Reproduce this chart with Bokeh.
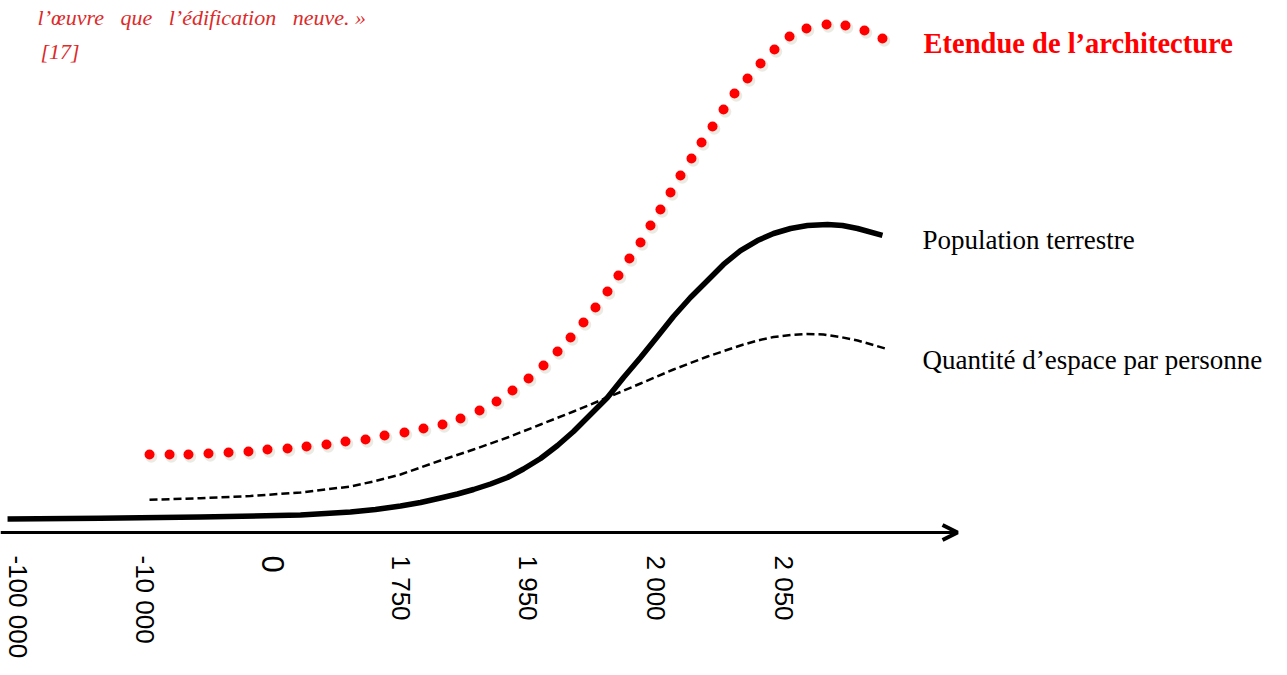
from bokeh.plotting import figure
from bokeh.models import Range1d, Arrow, OpenHead, ColumnDataSource
from bokeh.transform import dodge
from bokeh.core.properties import value, field
from bokeh.embed import file_html
from bokeh.resources import INLINE

# ---- data (x = position along the time axis, one unit per tick; y = relative level 0-100)
tick_labels = ["-100 000", "-10 000", "0", "1 750", "1 950", "2 000", "2 050"]
tick_pos = [0, 1, 2, 3, 4, 5, 6]

arch_x = [1.034, 1.191, 1.339, 1.496, 1.653, 1.809, 1.958, 2.115, 2.264, 2.420,
          2.569, 2.726, 2.875, 3.031, 3.180, 3.329, 3.470, 3.619, 3.752, 3.877,
          4.003, 4.120, 4.230, 4.332, 4.433, 4.527, 4.621, 4.707, 4.793, 4.880,
          4.958, 5.036, 5.115, 5.193, 5.279, 5.358, 5.444, 5.530, 5.616, 5.718,
          5.820, 5.929, 6.047, 6.180, 6.337, 6.485, 6.634, 6.775]
arch_y = [15.29, 15.29, 15.29, 15.49, 15.69, 15.88, 16.27, 16.47, 16.86, 17.25,
          17.84, 18.24, 19.02, 19.61, 20.39, 21.18, 22.35, 23.92, 25.69, 27.84,
          30.20, 32.75, 35.49, 38.24, 41.18, 44.12, 47.25, 50.39, 53.73, 56.86,
          60.20, 63.33, 66.67, 70.00, 73.33, 76.47, 79.61, 82.94, 86.08, 89.02,
          91.96, 94.71, 97.25, 98.82, 99.61, 99.41, 98.43, 96.86]

pop_x = [-0.078, 0.650, 1.433, 2.217, 2.608, 2.804, 3.000, 3.157, 3.313, 3.446,
         3.572, 3.705, 3.838, 3.963, 4.097, 4.230, 4.355, 4.488, 4.621, 4.747,
         4.880, 5.013, 5.138, 5.271, 5.405, 5.530, 5.663, 5.796, 5.922, 6.055,
         6.188, 6.345, 6.462, 6.580, 6.775]
pop_y = [2.65, 2.80, 3.04, 3.43, 4.02, 4.51, 5.20, 5.88, 6.76, 7.55,
         8.43, 9.51, 10.78, 12.45, 14.51, 17.06, 19.80, 23.14, 26.47, 30.39,
         34.31, 38.43, 42.35, 46.08, 49.41, 52.55, 55.29, 57.25, 58.63, 59.61,
         60.20, 60.39, 60.20, 59.61, 58.24]

space_x = [1.034, 1.433, 1.825, 2.217, 2.608, 2.804, 3.000, 3.313, 3.572, 3.838,
           4.097, 4.355, 4.621, 4.880, 5.138, 5.405, 5.663, 5.796, 5.922, 6.055,
           6.180, 6.313, 6.446, 6.580, 6.705, 6.822]
space_y = [6.41, 6.73, 7.16, 7.84, 9.02, 10.10, 11.37, 14.12, 16.27, 18.63,
           21.18, 23.73, 26.47, 29.22, 31.96, 34.51, 36.67, 37.65, 38.33, 38.73,
           38.92, 38.82, 38.33, 37.65, 36.76, 35.88]

series_labels = ["Etendue de l\u2019architecture", "Population terrestre",
                 "Quantit\u00e9 d\u2019espace par personne"]
quote_lines = ["l\u2019\u0153uvre\u00a0\u00a0 que\u00a0\u00a0 l\u2019\u00e9dification\u00a0\u00a0 neuve.\u00a0\u00bb", "[17]"]

# ---- figure
p = figure(width=1271, height=659,
           x_range=Range1d(-0.1332, 9.8222), y_range=Range1d(-24.902, 104.314),
           output_backend="svg", toolbar_location=None,
           x_axis_location=None, y_axis_location=None,
           min_border=0, outline_line_color=None,
           background_fill_color="white", border_fill_color="white")
p.grid.visible = False

serif = value("Liberation Serif")

# quantity of space per person (dashed)
p.line(space_x, space_y, line_color="black", line_width=2.5, line_dash="8 4",
       line_join="round")

# population (thick solid)
p.line(pop_x, pop_y, line_color="black", line_width=5.5, line_join="round")

# extent of architecture (red dots with faint shadow)
arch_src = ColumnDataSource(dict(x=arch_x, y=arch_y))
p.scatter(x=dodge("x", 0.014, range=p.x_range), y=dodge("y", -0.45, range=p.y_range),
          source=arch_src, size=12, fill_color="#c9c6b0", fill_alpha=0.35, line_color=None)
p.scatter(x="x", y="y", source=arch_src, size=10, fill_color="#ff0000", line_color=None)

# time axis with arrow
p.add_layout(Arrow(end=OpenHead(size=15, line_width=4, line_color="black"),
                   x_start=p.x_range.start, y_start=0, x_end=7.363, y_end=0,
                   line_width=3, line_color="black"))

tick_src = ColumnDataSource(dict(x=tick_pos, y=[0] * len(tick_pos), text=tick_labels,
                                 size=["31px" if t == "0" else "26px" for t in tick_labels]))
p.text(x="x", y="y", text="text", source=tick_src, angle=-1.5708,
       text_font=value("Liberation Sans"), text_font_size=field("size"),
       text_align="left", text_baseline="middle", y_offset=23, text_color="black")

# series labels
p.text(x=[7.097], y=[94.3], text=[series_labels[0]], text_font=serif,
       text_font_size="28.5px", text_font_style="bold", text_color="#ff0000",
       text_baseline="alphabetic", y_offset=-8)
p.text(x=[7.089, 7.089], y=[55.69, 32.35], text=series_labels[1:], text_font=serif,
       text_font_size="27px", text_color="black", text_baseline="alphabetic",
       y_offset=-8)

# quotation fragment top-left
p.text(x=[0.157, 0.18], y=[99.4, 92.7], text=quote_lines, text_font=serif,
       text_font_size="22px", text_font_style="italic", text_color="#dd2a2a",
       text_baseline="alphabetic", y_offset=-8)

open("out.html", "w").write(file_html(p, INLINE))
